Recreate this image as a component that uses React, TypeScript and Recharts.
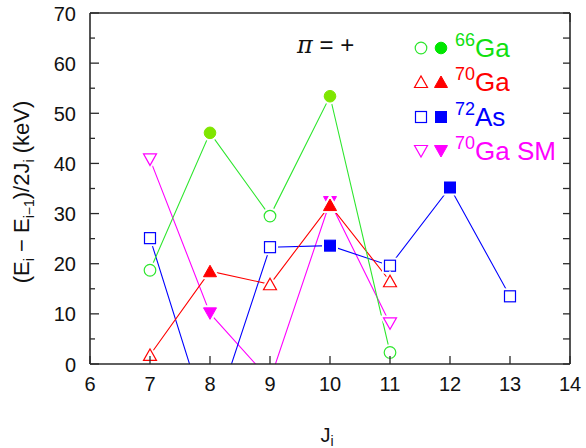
import React from 'react';
import { LineChart, Line, XAxis, YAxis } from 'recharts';

const J = [7, 8, 9, 10, 11, 12, 13];
const ga66 = [18.7, 46.1, 29.5, 53.4, 2.3, null, null];
const ga70 = [1.8, 18.5, 15.9, 31.7, 16.5, null, null];
const as72 = [25.1, -13, 23.3, 23.6, 19.6, 35.2, 13.5];
const ga70sm = [40.8, 10.1, -3.2, 32.3, 8.1, null, null];
const xTicks = [6, 7, 8, 9, 10, 11, 12, 13, 14];
const yTicks = [0, 5, 10, 15, 20, 25, 30, 35, 40, 45, 50, 55, 60, 65, 70];

const data = J.map((j, i) => ({ J: j, ga66: ga66[i], ga70: ga70[i], as72: as72[i], sm: ga70sm[i] }));

const FONT = 'Liberation Sans, Arial, Helvetica, sans-serif';
const AX = '#2a2a2a';
const GREEN = '#2ee62e';
const GREEN_FILL = '#7fe600';
const RED = '#ff0000';
const BLUE = '#0000ff';
const MAG = '#ff00ff';

type Shape = 'circle' | 'square' | 'up' | 'down';

function shapeEl(shape: Shape, cx: number, cy: number, fill: string, stroke: string, sw: number) {
  if (shape === 'circle') return <circle cx={cx} cy={cy} r={5.8} fill={fill} stroke={stroke} strokeWidth={sw} />;
  if (shape === 'square') return <rect x={cx - 5.5} y={cy - 5.5} width={11} height={11} fill={fill} stroke={stroke} strokeWidth={sw} />;
  if (shape === 'up') return <polygon points={`${cx - 6.5},${cy + 5.5} ${cx + 6.5},${cy + 5.5} ${cx},${cy - 6}`} fill={fill} stroke={stroke} strokeWidth={sw} />;
  return <polygon points={`${cx - 6.5},${cy - 5.5} ${cx + 6.5},${cy - 5.5} ${cx},${cy + 6}`} fill={fill} stroke={stroke} strokeWidth={sw} />;
}

function makeDot(shape: Shape, color: string, filledColor: string) {
  return (p: any) => {
    const { cx, cy, payload, value, index } = p;
    const v = Array.isArray(value) ? value[1] : value;
    if (v == null || v < 0 || cx == null || cy == null) return <g key={`d${index}`} />;
    const filled = payload.J % 2 === 0;
    return (
      <g key={`d${index}`}>
        {shapeEl(shape, cx, cy, '#fff', '#fff', 5)}
        {filled ? shapeEl(shape, cx, cy, filledColor, filledColor, 1) : shapeEl(shape, cx, cy, '#fff', color, 1.2)}
      </g>
    );
  };
}

const LeftTick = (p: any) => {
  const { x, y, payload } = p;
  const v = payload.value;
  const major = v % 10 === 0;
  return (
    <g>
      <line x1={x} x2={x + (major ? 9 : 5)} y1={y} y2={y} stroke={AX} strokeWidth={1.3} />
      {major && (
        <text x={x - 14} y={y + 7.5} textAnchor="end" fontSize={20} fontFamily={FONT} fill="#111">
          {v}
        </text>
      )}
    </g>
  );
};

const RightTick = (p: any) => {
  const { x, y } = p;
  return <line x1={x} x2={x - 7} y1={y} y2={y} stroke={AX} strokeWidth={1.3} />;
};

const BottomTick = (p: any) => {
  const { x, y, payload } = p;
  return (
    <g>
      <line x1={x} x2={x} y1={y} y2={y - 8} stroke={AX} strokeWidth={1.3} />
      <text x={x} y={y + 27} textAnchor="middle" fontSize={20} fontFamily={FONT} fill="#111">
        {payload.value}
      </text>
    </g>
  );
};

const TopTick = (p: any) => {
  const { x, y } = p;
  return <line x1={x} x2={x} y1={y} y2={y + 9} stroke={AX} strokeWidth={1.3} />;
};

const legendRows = [
  { sup: '66', name: 'Ga', color: '#10e010', open: GREEN, fill: '#00e600', shape: 'circle' as Shape, y: 57 },
  { sup: '70', name: 'Ga', color: RED, open: RED, fill: RED, shape: 'up' as Shape, y: 91 },
  { sup: '72', name: 'As', color: BLUE, open: BLUE, fill: BLUE, shape: 'square' as Shape, y: 126 },
  { sup: '70', name: 'Ga SM', color: MAG, open: MAG, fill: MAG, shape: 'down' as Shape, y: 160 },
];

export default function App() {
  return (
    <div style={{ position: 'absolute', left: 0, top: 0, width: 586, height: 448, background: '#fff' }}>
      <LineChart width={586} height={448} data={data} margin={{ top: 12, right: 15, bottom: 54, left: 30 }}>
        <XAxis
          xAxisId="b"
          dataKey="J"
          type="number"
          domain={[6, 14]}
          ticks={xTicks}
          interval={0}
          height={30}
          tickSize={0}
          tickMargin={0}
          tickLine={false}
          tick={BottomTick}
          axisLine={{ stroke: AX, strokeWidth: 1.6 }}
        />
        <XAxis
          xAxisId="t"
          orientation="top"
          type="number"
          domain={[6, 14]}
          ticks={xTicks}
          interval={0}
          height={1}
          tickSize={0}
          tickMargin={0}
          tickLine={false}
          tick={TopTick}
          axisLine={{ stroke: AX, strokeWidth: 1.6 }}
        />
        <YAxis
          yAxisId="l"
          type="number"
          domain={[0, 70]}
          allowDataOverflow
          ticks={yTicks}
          interval={0}
          width={60}
          tickSize={0}
          tickMargin={0}
          tickLine={false}
          tick={LeftTick}
          axisLine={{ stroke: AX, strokeWidth: 1.6 }}
        />
        <YAxis
          yAxisId="r"
          orientation="right"
          type="number"
          domain={[0, 70]}
          allowDataOverflow
          ticks={yTicks}
          interval={0}
          width={1}
          tickSize={0}
          tickMargin={0}
          tickLine={false}
          tick={RightTick}
          axisLine={{ stroke: AX, strokeWidth: 1.6 }}
        />
        <Line xAxisId="b" yAxisId="l" dataKey="sm" stroke={MAG} strokeWidth={1.1} isAnimationActive={false} dot={makeDot('down', MAG, MAG)} activeDot={false} />
        <Line xAxisId="b" yAxisId="l" dataKey="as72" stroke={BLUE} strokeWidth={1.1} isAnimationActive={false} dot={makeDot('square', BLUE, BLUE)} activeDot={false} />
        <Line xAxisId="b" yAxisId="l" dataKey="ga70" stroke={RED} strokeWidth={1.1} isAnimationActive={false} dot={makeDot('up', RED, RED)} activeDot={false} />
        <Line xAxisId="b" yAxisId="l" dataKey="ga66" stroke={GREEN} strokeWidth={1.1} isAnimationActive={false} dot={makeDot('circle', GREEN, GREEN_FILL)} activeDot={false} />
      </LineChart>
      <svg width={586} height={448} style={{ position: 'absolute', left: 0, top: 0, pointerEvents: 'none' }}>
        <text transform="translate(29,192) rotate(-90)" textAnchor="middle" fontSize={22} fontFamily={FONT} fill="#111">
          (E<tspan fontSize={14} dy={5}>i</tspan>
          <tspan dy={-5}> − E</tspan>
          <tspan fontSize={14} dy={5}>i−1</tspan>
          <tspan dy={-5}>)/2J</tspan>
          <tspan fontSize={14} dy={5}>i</tspan>
          <tspan dy={-5}> (keV)</tspan>
        </text>
        <text x={327} y={442} textAnchor="middle" fontSize={20} fontFamily={FONT} fill="#111">
          J<tspan fontSize={14} dy={4}>i</tspan>
        </text>
        <text x={297} y={53} fontSize={24} fontFamily={FONT} fill="#111">
          <tspan fontStyle="italic" fontFamily="DejaVu Serif, serif">π</tspan> = +
        </text>
        {legendRows.map((r) => (
          <g key={r.sup + r.name}>
            {shapeEl(r.shape, 421, r.y - 9, '#fff', r.open, 1.2)}
            {shapeEl(r.shape, 441, r.y - 9, r.fill, r.fill, 1)}
            <text x={455} y={r.y} fontFamily={FONT} fill={r.color}>
              <tspan fontSize={18} dy={-11}>{r.sup}</tspan>
              <tspan fontSize={26} dy={11}>{r.name}</tspan>
            </text>
          </g>
        ))}
      </svg>
    </div>
  );
}
